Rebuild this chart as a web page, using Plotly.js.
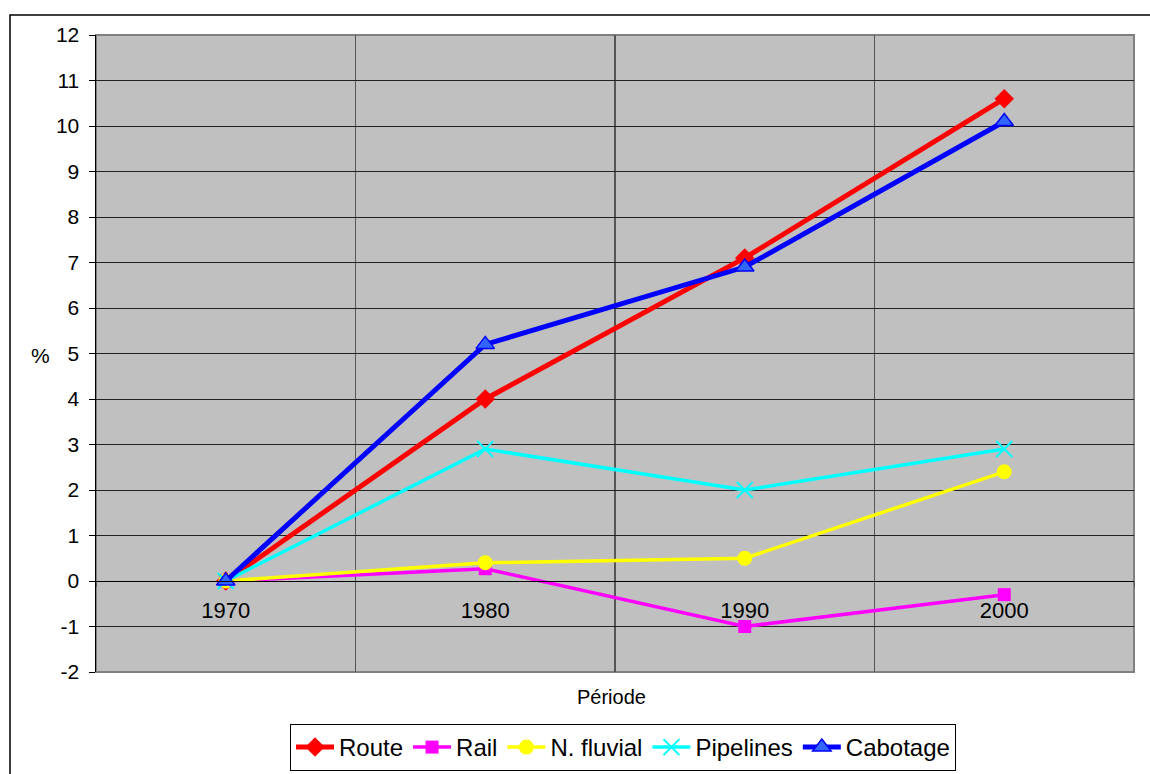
<!DOCTYPE html>
<html>
<head>
<meta charset="utf-8">
<script src="https://cdn.plot.ly/plotly-3.0.1.min.js"></script>
<style>
  html, body { margin: 0; padding: 0; background: #ffffff; }
  #chart { width: 1150px; height: 774px; }
</style>
</head>
<body>
<div id="chart"></div>
<script>
// ---- Data ----
const years = ['1970', '1980', '1990', '2000'];
const route = [0, 4.0, 7.1, 10.6];
const rail = [0, 0.27, -1.0, -0.3];
const fluvial = [0, 0.4, 0.5, 2.4];
const pipelines = [0, 2.9, 2.0, 2.9];
const cabotage = [0, 5.2, 6.9, 10.1];
const seriesNames = ['Route', 'Rail', 'N. fluvial', 'Pipelines', 'Cabotage'];
const yTicks = [-2, -1, 0, 1, 2, 3, 4, 5, 6, 7, 8, 9, 10, 11, 12];

const FONT = 'Liberation Sans, Arial, sans-serif';

const traces = [
  {
    x: years, y: route, name: seriesNames[0], type: 'scatter', mode: 'lines+markers',
    line: { color: '#FF0000', width: 5 },
    marker: { symbol: 'diamond', size: 15, color: '#FF0000' }
  },
  {
    x: years, y: rail, name: seriesNames[1], type: 'scatter', mode: 'lines+markers',
    line: { color: '#FF00FF', width: 3.5 },
    marker: { symbol: 'square', size: 13, color: '#FF00FF' }
  },
  {
    x: years, y: fluvial, name: seriesNames[2], type: 'scatter', mode: 'lines+markers',
    line: { color: '#FFFF00', width: 3.5 },
    marker: { symbol: 'circle', size: 15, color: '#FFFF00' }
  },
  {
    x: years, y: pipelines, name: seriesNames[3], type: 'scatter', mode: 'lines+markers',
    line: { color: '#00FFFF', width: 3.5 },
    marker: { symbol: 'x-thin-open', size: 16, color: '#00FFFF', line: { color: '#00FFFF', width: 2 } }
  },
  {
    x: years, y: cabotage, name: seriesNames[4], type: 'scatter', mode: 'lines+markers',
    line: { color: '#0000FF', width: 5 },
    marker: { symbol: 'triangle-up', size: 16, color: '#3366FF', line: { color: '#0000FF', width: 1.5 } }
  }
];

// plot area: x 96..1134, y 35..672
const L = 96, R = 16, T = 35, B = 102;
const PW = 1150 - L - R, PH = 774 - T - B;
const px = v => (v - L) / PW;
const py = v => (774 - B - v) / PH;

const layout = {
  width: 1150, height: 774,
  margin: { l: L, r: R, t: T, b: B, pad: 0, autoexpand: false },
  paper_bgcolor: '#FFFFFF',
  plot_bgcolor: '#C0C0C0',
  font: { family: FONT, color: '#000000', size: 20 },
  showlegend: true,
  legend: {
    orientation: 'h',
    x: px(623), xanchor: 'center',
    y: py(724), yanchor: 'top',
    bgcolor: '#FFFFFF',
    bordercolor: '#000000', borderwidth: 1,
    font: { family: FONT, size: 24, color: '#000000' },
    itemwidth: 38,
    traceorder: 'normal'
  },
  xaxis: {
    type: 'category',
    range: [-0.5, 3.5],
    tickson: 'boundaries',
    anchor: 'free',
    position: 2 / 14,
    showline: true, linecolor: '#000000', linewidth: 1,
    showgrid: true, gridcolor: '#555555', gridwidth: 1.5,
    ticks: 'outside', ticklen: 5, tickcolor: '#555555',
    tickfont: { family: FONT, size: 22, color: '#000000' },
    ticklabelstandoff: 10,
    zeroline: false,
    fixedrange: true
  },
  yaxis: {
    range: [-2, 12],
    tickvals: yTicks,
    ticktext: yTicks.map(String),
    showline: true, linecolor: '#000000', linewidth: 1.5,
    showgrid: true, gridcolor: '#222222', gridwidth: 1,
    zeroline: false,
    ticks: 'outside', ticklen: 6, tickcolor: '#000000',
    tickfont: { family: FONT, size: 21, color: '#000000' },
    ticklabelstandoff: 5,
    fixedrange: true
  },
  shapes: [
    // plot area border (grey)
    { type: 'rect', xref: 'paper', yref: 'paper', x0: 0, x1: 1, y0: 0, y1: 1,
      line: { color: '#808080', width: 2 }, fillcolor: 'rgba(0,0,0,0)', layer: 'below' },
    // outer chart frame
    { type: 'rect', xref: 'paper', yref: 'paper', x0: px(10), x1: px(1170), y0: py(794), y1: py(15),
      line: { color: '#000000', width: 1.5 }, fillcolor: 'rgba(0,0,0,0)', layer: 'below' }
  ],
  annotations: [
    { text: 'Période', xref: 'paper', yref: 'paper', x: px(611), y: py(697),
      xanchor: 'center', yanchor: 'middle', showarrow: false,
      font: { family: FONT, size: 20, color: '#000000' } },
    { text: '%', xref: 'paper', yref: 'paper', x: px(40), y: py(355),
      xanchor: 'center', yanchor: 'middle', showarrow: false,
      font: { family: FONT, size: 21, color: '#000000' } }
  ]
};

Plotly.newPlot('chart', traces, layout, { displayModeBar: false, staticPlot: true });
</script>
</body>
</html>
